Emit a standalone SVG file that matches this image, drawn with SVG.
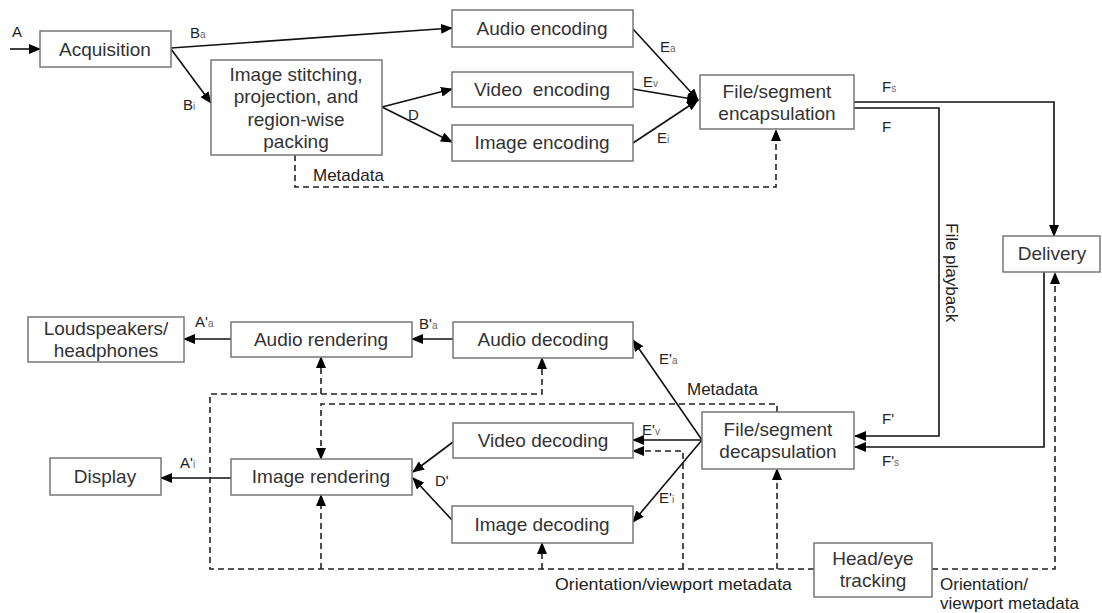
<svg xmlns="http://www.w3.org/2000/svg" width="1102" height="613" viewBox="0 0 1102 613">
<defs>
<marker id="ah" markerUnits="userSpaceOnUse" markerWidth="12" markerHeight="10" refX="11" refY="5" orient="auto"><path d="M0,0 L12,5 L0,10 z" fill="#000"/></marker>
<style>
.box{fill:#fff;stroke:#777;stroke-width:1.5}
.bt{font-family:"Liberation Sans",Arial,sans-serif;font-size:19px;fill:#333;text-anchor:middle}
.lb{font-family:"Liberation Sans",Arial,sans-serif;font-size:15px;fill:#222}
.sb{font-size:10px;fill:#666}
.mt{font-family:"Liberation Sans",Arial,sans-serif;font-size:17px;fill:#222}
.c{fill:none;stroke:#111;stroke-width:1.6}
.d{fill:none;stroke:#222;stroke-width:1.6;stroke-dasharray:6,4}
.ar{marker-end:url(#ah)}
</style>
</defs>
<rect width="1102" height="613" fill="#fff"/>

<g id="connectors">
<path class="c ar" d="M10,49 L40,49"/>
<path class="c ar" d="M171,48 L452,28"/>
<path class="c ar" d="M171,49 L211,103"/>
<path class="c ar" d="M382,107 L452,89"/>
<path class="c ar" d="M382,107 L452,142"/>
<path class="c ar" d="M633,29 L698,100"/>
<path class="c ar" d="M633,89 L698,100"/>
<path class="c ar" d="M633,143 L698,100"/>
<path class="c ar" d="M854,102 L1054,102 L1054,236"/>
<path class="c ar" d="M854,108 L939,108 L939,436 L855,436"/>
<path class="c ar" d="M1044,272 L1044,447 L855,447"/>
<path class="c ar" d="M231,339 L184,339"/>
<path class="c ar" d="M453,339 L412,339"/>
<path class="c ar" d="M702,440 L633,340"/>
<path class="c ar" d="M702,440 L633,440"/>
<path class="c ar" d="M702,440 L633,522"/>
<path class="c ar" d="M453,442 L413,472"/>
<path class="c ar" d="M452,520 L413,478"/>
<path class="c ar" d="M231,478 L161,478"/>

<path class="d ar" d="M295,155 L295,187 L776,187 L776,130"/>
<path class="d ar" d="M777,412 L777,404 L321,404 L321,459"/>
<path class="d ar" d="M814,569 L210,569 L210,394 L542,394 L542,358"/>
<path class="d ar" d="M321,394 L321,357"/>
<path class="d ar" d="M321,569 L321,495"/>
<path class="d ar" d="M542,569 L542,543"/>
<path class="d ar" d="M683,569 L683,451 L633,451"/>
<path class="d ar" d="M777,569 L777,469"/>
<path class="d ar" d="M932,569 L1055,569 L1055,273"/>

<text class="lb" x="12" y="37">A</text>
<text class="lb" x="190" y="38">B<tspan class="sb">a</tspan></text>
<text class="lb" x="183" y="110">B<tspan class="sb">i</tspan></text>
<text class="lb" x="408" y="120">D</text>
<text class="lb" x="660" y="52">E<tspan class="sb">a</tspan></text>
<text class="lb" x="643" y="87">E<tspan class="sb">v</tspan></text>
<text class="lb" x="657" y="143">E<tspan class="sb">i</tspan></text>
<text class="lb" x="882" y="92">F<tspan class="sb">s</tspan></text>
<text class="lb" x="882" y="132">F</text>
<text class="mt" x="946" y="223" transform="rotate(90 946 223)">File playback</text>
<text class="lb" x="882" y="424">F'</text>
<text class="lb" x="882" y="466">F'<tspan class="sb">s</tspan></text>
<text class="lb" x="195" y="327">A'<tspan class="sb">a</tspan></text>
<text class="lb" x="419" y="329">B'<tspan class="sb">a</tspan></text>
<text class="lb" x="659" y="364">E'<tspan class="sb">a</tspan></text>
<text class="lb" x="642" y="435">E'<tspan class="sb">v</tspan></text>
<text class="lb" x="659" y="503">E'<tspan class="sb">i</tspan></text>
<text class="lb" x="180" y="468">A'<tspan class="sb">i</tspan></text>
<text class="lb" x="435" y="486">D'</text>
<text class="mt" x="313" y="181">Metadata</text>
<text class="mt" x="687" y="395">Metadata</text>
<text class="mt" x="555" y="590" textLength="237" lengthAdjust="spacingAndGlyphs">Orientation/viewport metadata</text>
<text class="mt" x="940" y="590">Orientation/</text>
<text class="mt" x="940" y="609">viewport metadata</text>
</g>

<g id="acquisition"><rect class="box" x="40" y="31" width="131" height="36"/><text class="bt" x="105" y="56">Acquisition</text></g>
<g id="stitching"><rect class="box" x="211" y="60" width="171" height="95"/>
<text class="bt" x="296" y="81">Image stitching,</text><text class="bt" x="296" y="103">projection, and</text><text class="bt" x="296" y="126">region-wise</text><text class="bt" x="296" y="148">packing</text></g>
<g id="audio-encoding"><rect class="box" x="452" y="10" width="181" height="37"/><text class="bt" x="542" y="35">Audio encoding</text></g>
<g id="video-encoding"><rect class="box" x="452" y="72" width="181" height="35"/><text class="bt" x="542" y="96" xml:space="preserve">Video  encoding</text></g>
<g id="image-encoding"><rect class="box" x="452" y="125" width="181" height="36"/><text class="bt" x="542" y="149">Image encoding</text></g>
<g id="encapsulation"><rect class="box" x="700" y="75" width="154" height="54"/><text class="bt" x="777" y="98">File/segment</text><text class="bt" x="777" y="120">encapsulation</text></g>
<g id="delivery"><rect class="box" x="1003" y="236" width="97" height="36"/><text class="bt" x="1052" y="260">Delivery</text></g>
<g id="loudspeakers"><rect class="box" x="28" y="317" width="156" height="45"/><text class="bt" x="106" y="335">Loudspeakers/</text><text class="bt" x="106" y="357">headphones</text></g>
<g id="audio-rendering"><rect class="box" x="231" y="322" width="181" height="35"/><text class="bt" x="321" y="346">Audio rendering</text></g>
<g id="audio-decoding"><rect class="box" x="453" y="322" width="180" height="36"/><text class="bt" x="543" y="346">Audio decoding</text></g>
<g id="video-decoding"><rect class="box" x="453" y="423" width="180" height="35"/><text class="bt" x="543" y="447">Video decoding</text></g>
<g id="display"><rect class="box" x="50" y="458" width="111" height="37"/><text class="bt" x="105" y="483">Display</text></g>
<g id="image-rendering"><rect class="box" x="231" y="459" width="181" height="36"/><text class="bt" x="321" y="483">Image rendering</text></g>
<g id="image-decoding"><rect class="box" x="452" y="506" width="181" height="37"/><text class="bt" x="542" y="531">Image decoding</text></g>
<g id="decapsulation"><rect class="box" x="702" y="412" width="152" height="57"/><text class="bt" x="778" y="436">File/segment</text><text class="bt" x="778" y="458">decapsulation</text></g>
<g id="head-eye-tracking"><rect class="box" x="814" y="543" width="118" height="54"/><text class="bt" x="873" y="565">Head/eye</text><text class="bt" x="873" y="587">tracking</text></g>
</svg>
